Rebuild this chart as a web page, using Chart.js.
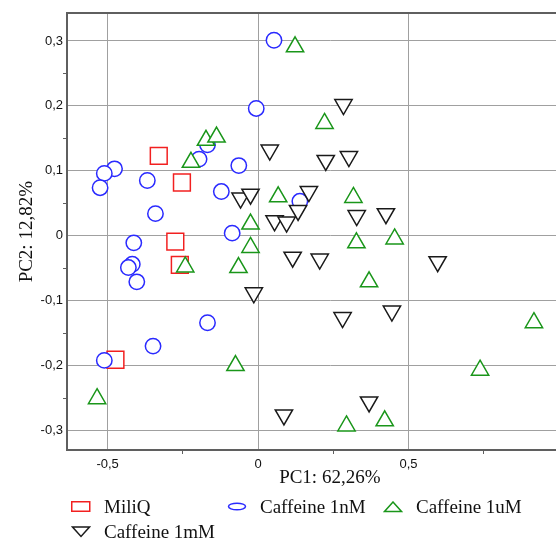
<!DOCTYPE html>
<html><head><meta charset="utf-8">
<script src="https://cdn.jsdelivr.net/npm/chart.js@4.4.1/dist/chart.umd.min.js"></script>
<style>
html,body{margin:0;padding:0;background:#fff;overflow:hidden;width:556px;height:539px;}
#wrap{position:relative;width:556px;height:539px;overflow:hidden;}
#c{position:absolute;left:0;top:0;}
#legend{position:absolute;left:71px;top:495px;display:grid;grid-template-columns:156px 156px 156px;grid-auto-rows:24.5px;font-family:"Liberation Serif","Times New Roman",serif;font-size:19px;color:#111;line-height:24.5px;}
.item{display:flex;align-items:center;white-space:nowrap;}
.item svg{flex:none;margin-right:13px;}
</style></head><body>
<div id="wrap"><canvas id="c" width="606" height="539"></canvas><div id="legend"></div></div>
<script>
// ---- data ----
const categories = ['MiliQ', 'Caffeine 1nM', 'Caffeine 1uM', 'Caffeine 1mM'];

const miliqX = [-0.330, -0.253, -0.275, -0.260, -0.474];
const miliqY = [ 0.123,  0.082, -0.009, -0.045, -0.191];

const nMX = [0.053, -0.006, -0.477, -0.511, -0.525, -0.368, -0.341, -0.196, -0.168, -0.064,
             -0.122, -0.086, -0.413, -0.418, -0.431, -0.403, -0.168, -0.349, -0.511, 0.139];
const nMY = [0.301, 0.196, 0.103, 0.096, 0.074, 0.085, 0.034, 0.118, 0.140, 0.108,
             0.068, 0.004, -0.011, -0.044, -0.049, -0.071, -0.134, -0.170, -0.192, 0.053];

const uMX = [-0.173, -0.138, -0.223, -0.025, 0.067, -0.025, -0.242, -0.065, -0.075, -0.535,
             0.123, 0.221, 0.317, 0.327, 0.454, 0.369, 0.917, 0.738, 0.294, 0.421];
const uMY = [0.147, 0.152, 0.113, 0.018, 0.060, -0.018, -0.048, -0.049, -0.200, -0.251,
             0.291, 0.173, 0.059, -0.011, -0.005, -0.071, -0.134, -0.207, -0.293, -0.285];

const mMX = [0.039, -0.058, -0.025, 0.055, 0.095, 0.133, 0.169, 0.225, 0.302, 0.284,
             0.328, 0.425, 0.115, 0.205, 0.597, 0.281, 0.445, 0.086, 0.369, -0.014];
const mMY = [0.132, 0.058, 0.064, 0.023, 0.021, 0.039, 0.068, 0.116, 0.122, 0.202,
             0.031, 0.034, -0.033, -0.036, -0.040, -0.126, -0.116, -0.276, -0.256, -0.088];

const xMajorTicks = [-0.5, 0, 0.5];
const xMinorTicks = [-0.25, 0.25, 0.75];
const xTickLabels = ['-0,5', '0', '0,5'];
const yMajorTicks = [-0.3, -0.2, -0.1, 0, 0.1, 0.2, 0.3];
const yMinorTicks = [-0.25, -0.15, -0.05, 0.05, 0.15, 0.25];
const yTickLabels = ['-0,3', '-0,2', '-0,1', '0', '0,1', '0,2', '0,3'];
const xTitle = 'PC1: 62,26%';
const yTitle = 'PC2: 12,82%';

// ---- styling ----
const GRID = '#a0a0a0', FRAME = '#5f5f5f', TXT = '#111';
const sansFont = '"Liberation Sans", Arial, sans-serif';
const serifFont = '"Liberation Serif", "Times New Roman", serif';

function pts(xs, ys) { return xs.map((x, i) => ({ x: x, y: ys[i] })); }
function majorIndex(list, v) { return list.findIndex(m => Math.abs(m - v) < 1e-9); }
function isMajor(list, ctx) { return ctx.tick ? majorIndex(list, ctx.tick.value) >= 0 : true; }
function setTicks(list1, list2) {
  return s => { s.ticks = list1.concat(list2).sort((a, b) => a - b).map(v => ({ value: v })); };
}

const styles = [
  { color: '#f22020', pointStyle: 'rect', radius: 11.9, rotation: 0, order: 4 },
  { color: '#2a2aff', pointStyle: 'circle', radius: 7.7, rotation: 0, order: 3 },
  { color: '#1a961a', pointStyle: 'triangle', radius: 10, rotation: 0, order: 2 },
  { color: '#1a1a1a', pointStyle: 'triangle', radius: 10, rotation: 180, order: 1 }
];
const series = [pts(miliqX, miliqY), pts(nMX, nMY), pts(uMX, uMY), pts(mMX, mMY)];

const datasets = categories.map((name, i) => ({
  label: name,
  data: series[i],
  showLine: false,
  pointStyle: styles[i].pointStyle,
  pointRadius: styles[i].radius,
  pointRotation: styles[i].rotation,
  pointBorderColor: styles[i].color,
  pointBackgroundColor: '#ffffff',
  pointBorderWidth: 1.5,
  borderColor: styles[i].color,
  backgroundColor: '#ffffff',
  order: styles[i].order
}));

const chart = new Chart(document.getElementById('c'), {
  type: 'scatter',
  data: { datasets: datasets },
  options: {
    responsive: false,
    animation: false,
    events: [],
    devicePixelRatio: 1,
    layout: { padding: { top: 11, left: 0, right: 0, bottom: 0 } },
    plugins: { legend: { display: false }, tooltip: { enabled: false } },
    scales: {
      x: {
        type: 'linear', position: 'bottom', min: -0.635, max: 1.112,
        afterBuildTicks: setTicks(xMajorTicks, xMinorTicks),
        afterFit: s => { s.height = 89; },
        ticks: {
          autoSkip: false, maxRotation: 0, padding: 3, color: TXT,
          font: { family: sansFont, size: 13 },
          callback: v => { const i = majorIndex(xMajorTicks, v); return i >= 0 ? xTickLabels[i] : ''; }
        },
        grid: {
          color: c => isMajor(xMajorTicks, c) ? GRID : 'rgba(0,0,0,0)',
          tickColor: c => isMajor(xMajorTicks, c) ? 'rgba(0,0,0,0)' : FRAME,
          tickLength: 4, lineWidth: 1
        },
        border: { color: FRAME, width: 2 },
        title: { display: true, text: xTitle, color: TXT, font: { family: serifFont, size: 19 }, padding: { top: 0, bottom: 49.6 } }
      },
      xTop: {
        type: 'linear', position: 'top', min: -0.635, max: 1.112, display: true,
        ticks: { display: false },
        grid: { display: false, drawTicks: false },
        border: { display: true, color: FRAME, width: 2 }
      },
      y: {
        type: 'linear', position: 'left', min: -0.330, max: 0.3424,
        afterBuildTicks: setTicks(yMajorTicks, yMinorTicks),
        afterFit: s => { s.width = 67; },
        ticks: {
          autoSkip: false, padding: 0, color: TXT,
          font: { family: sansFont, size: 13 },
          callback: v => { const i = majorIndex(yMajorTicks, v); return i >= 0 ? yTickLabels[i] : ''; }
        },
        grid: {
          color: c => isMajor(yMajorTicks, c) ? GRID : 'rgba(0,0,0,0)',
          tickColor: c => isMajor(yMajorTicks, c) ? 'rgba(0,0,0,0)' : FRAME,
          tickLength: 4, lineWidth: 1
        },
        border: { color: FRAME, width: 2 },
        title: { display: true, text: yTitle, color: TXT, font: { family: serifFont, size: 19 }, padding: { top: 15.6, bottom: 0 } }
      }
    }
  }
});

// ---- HTML legend built from the chart's datasets ----
function iconSvg(ds) {
  const c = ds.pointBorderColor, s = 'fill="none" stroke="' + c + '" stroke-width="1.5"';
  let shape;
  if (ds.pointStyle === 'rect') shape = '<rect x="0.75" y="0.75" width="18" height="9.5" ' + s + '/>';
  else if (ds.pointStyle === 'circle') shape = '<ellipse cx="10" cy="5.5" rx="8.5" ry="3.3" ' + s + '/>';
  else if (ds.pointRotation === 180) shape = '<polygon points="1.5,1 18.5,1 10,10.5" ' + s + '/>';
  else shape = '<polygon points="10,1 18.5,10.5 1.5,10.5" ' + s + '/>';
  return '<svg width="20" height="12" viewBox="0 0 20 12">' + shape + '</svg>';
}
const leg = document.getElementById('legend');
chart.data.datasets.forEach(ds => {
  const d = document.createElement('div');
  d.className = 'item';
  d.innerHTML = iconSvg(ds);
  const t = document.createElement('span');
  t.textContent = ds.label;
  d.appendChild(t);
  leg.appendChild(d);
});
</script></body></html>
